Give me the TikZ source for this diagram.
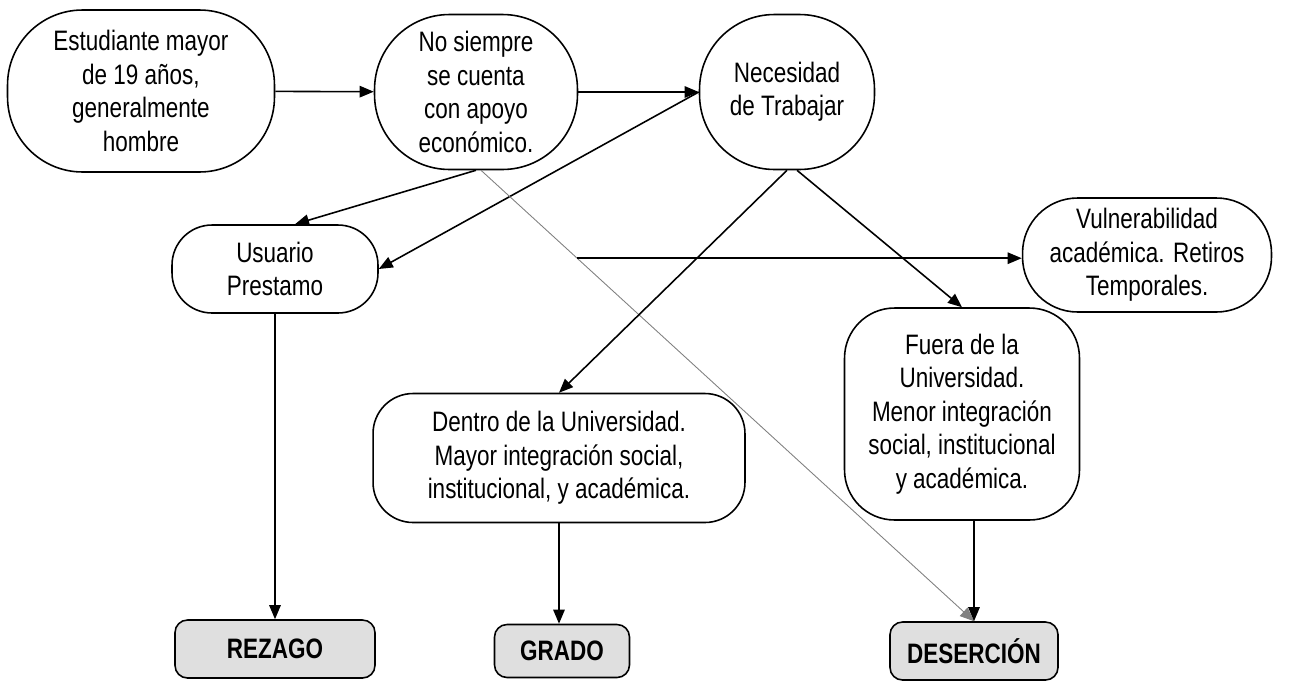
\documentclass[tikz,border=0pt]{standalone}
\usepackage{fontspec}
\setmainfont{Liberation Sans}[FakeStretch=0.8]
\usetikzlibrary{arrows.meta}

\begin{document}
\begin{tikzpicture}[x=0.02cm, y=-0.02cm,
    box/.style={draw, line width=0.9pt, align=center, inner sep=0pt,
        font=\fontsize{16}{19}\selectfont},
    outcome/.style={box, fill=gray!25, rounded corners=0.25cm,
        font=\fontsize{16}{19}\selectfont\bfseries},
    arr/.style={-{Triangle[length=8pt, width=6.5pt]}, line width=0.9pt},
    thin arr/.style={-{Triangle[length=8pt, width=6.5pt]}, line width=0.5pt, gray}]
    \useasboundingbox (0,0) rectangle (1300,680);

    \node (estudiante) at (141,91) [box, minimum width=5.34cm, minimum height=3.24cm, rounded corners=1.5cm]
        {Estudiante mayor\\de 19 años,\\generalmente\\hombre};
    \node (apoyo) at (476,92) [box, minimum width=4.06cm, minimum height=3.1cm, rounded corners=1.5cm]
        {No siempre\\se cuenta\\con apoyo\\económico.};
    \node (trabajar) at (787,92) [box, minimum width=3.5cm, minimum height=3.1cm, rounded corners=1.5cm]
        {Necesidad\\de Trabajar};
    \node (usuario) at (275,269) [box, minimum width=4.12cm, minimum height=1.76cm, rounded corners=0.8cm]
        {Usuario\\Prestamo};
    \node (vulner) at (1147,255) [box, minimum width=4.98cm, minimum height=2.28cm, rounded corners=1.1cm]
        {Vulnerabilidad\\académica. Retiros\\Temporales.};
    \node (fuera) at (962,414) [box, minimum width=4.7cm, minimum height=4.24cm, rounded corners=1cm]
        {Fuera de la\\Universidad.\\Menor integración\\social, institucional\\y académica.};
    \node (dentro) at (559,458) [box, minimum width=7.44cm, minimum height=2.58cm, rounded corners=0.8cm]
        {Dentro de la Universidad.\\Mayor integración social,\\institucional, y académica.};
    \node (rezago) at (275,649) [outcome, minimum width=4cm, minimum height=1.16cm] {REZAGO};
    \node (grado) at (562,651) [outcome, minimum width=2.7cm, minimum height=1.06cm] {GRADO};
    \node (desercion) at (974,651) [outcome, minimum width=3.36cm, minimum height=1.16cm] {DESERCIÓN};

    \draw [arr] (estudiante) -- (apoyo);
    \draw [arr] (apoyo) -- (trabajar);
    \draw [arr] (apoyo.south) -- ([xshift=0.4cm]usuario.north);
    \draw [arr] (trabajar.west) -- (usuario.east);
    \draw [thin arr] ([xshift=0.1cm]apoyo.south) -- coordinate[pos=0.195] (branch) (desercion.north);
    \draw [arr] (branch) -- (branch -| vulner.west);
    \draw [arr] (trabajar.south) -- (dentro.north);
    \draw [arr] ([xshift=0.2cm]trabajar.south) -- (fuera.north);
    \draw [arr] (usuario) -- (rezago);
    \draw [arr] (dentro.south) -- (dentro.south |- grado.north);
    \draw [arr] (fuera.south -| desercion.north) -- (desercion.north);
\end{tikzpicture}
\end{document}
